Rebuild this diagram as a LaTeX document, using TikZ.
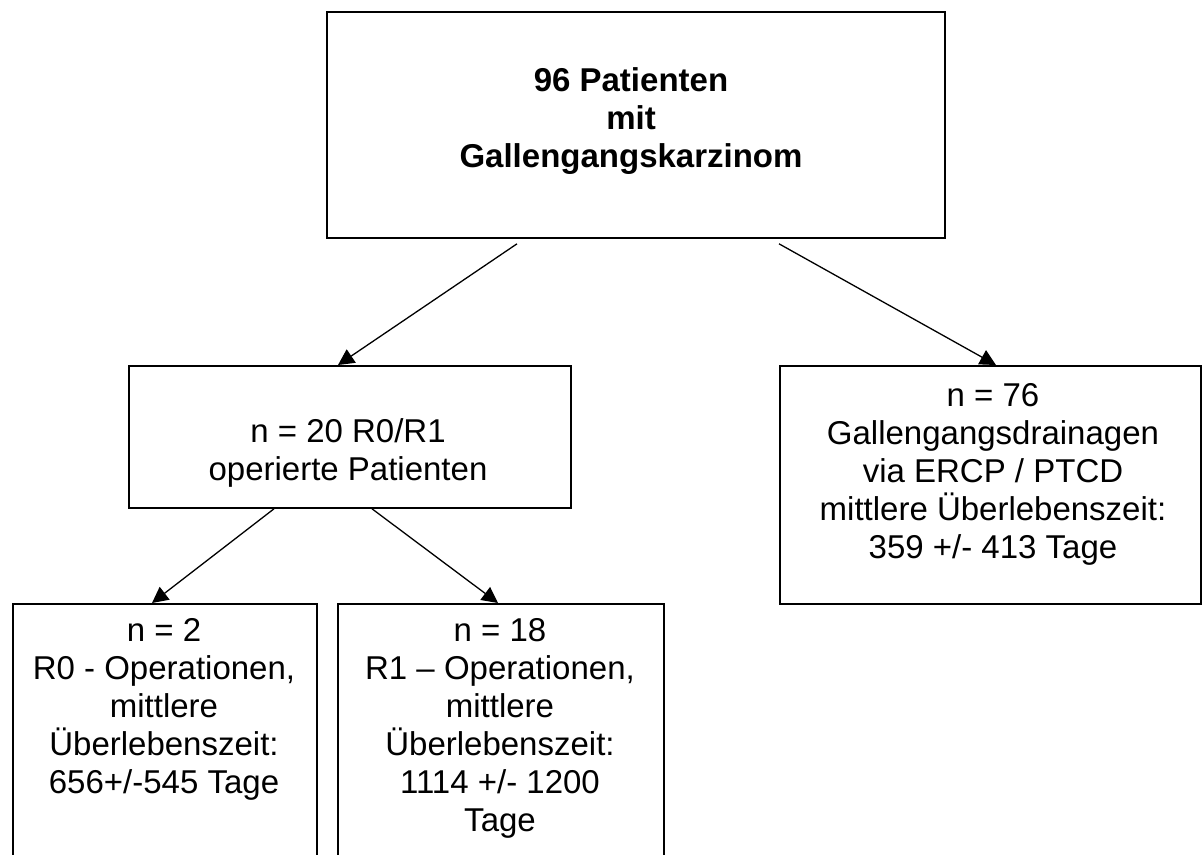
\documentclass[tikz,border=0pt]{standalone}
\usepackage{fontspec}
\setmainfont{Liberation Sans}
\usetikzlibrary{arrows.meta,calc}
\begin{document}
\begin{tikzpicture}[x=1pt,y=-1pt,
  box/.style={draw=black,line width=1.8pt,rectangle,inner sep=0pt,anchor=north west},
  txt/.style={align=center,inner sep=0pt,font=\fontsize{33}{38}\selectfont},
  arr/.style={draw=black,line width=1.3pt,-{Triangle[length=16pt,width=16pt]}}]
\useasboundingbox (0,0) rectangle (1202,854);
\clip (0,0) rectangle (1202,854);
\fill[white] (0,0) rectangle (1202,854);
% boxes
\node[box,minimum width=618pt,minimum height=226pt] (top) at (326,11) {};
\node[box,minimum width=442pt,minimum height=142pt] (mid) at (128,365) {};
\node[box,minimum width=421pt,minimum height=238pt] (right) at (779,365) {};
\node[box,minimum width=304pt,minimum height=297pt] (bl) at (12,603) {};
\node[box,minimum width=326pt,minimum height=297pt] (bm) at (337,603) {};
% texts
\node[txt,font=\fontsize{33}{38}\selectfont\bfseries] (topT) at (631,121)
  {96 Patienten\\mit\\Gallengangskarzinom};
\node[txt] (midT) at (348,453) {n = 20 R0/R1\\operierte Patienten};
\node[txt] (rightT) at (993,474)
  {n = 76\\Gallengangsdrainagen\\via ERCP / PTCD\\mittlere Überlebenszeit:\\359 +/- 413 Tage};
\node[txt] (blT) at (164,709)
  {n = 2\\R0 - Operationen,\\mittlere\\Überlebenszeit:\\656+/-545 Tage};
\node[txt] (bmT) at (500,728)
  {n = 18\\R1 – Operationen,\\mittlere\\Überlebenszeit:\\1114 +/- 1200\\Tage};
% connectors
\draw[arr] ($(top.south west)+(191,5)$) -- ($(mid.north west)+(210,0)$);
\draw[arr] ($(top.south west)+(453,5)$) -- ($(right.north west)+(217,0)$);
\draw[arr] ($(mid.south west)+(146,0)$) -- ($(bl.north west)+(140,0)$);
\draw[arr] ($(mid.south west)+(244,0)$) -- ($(bm.north west)+(161,0)$);
\end{tikzpicture}
\end{document}
